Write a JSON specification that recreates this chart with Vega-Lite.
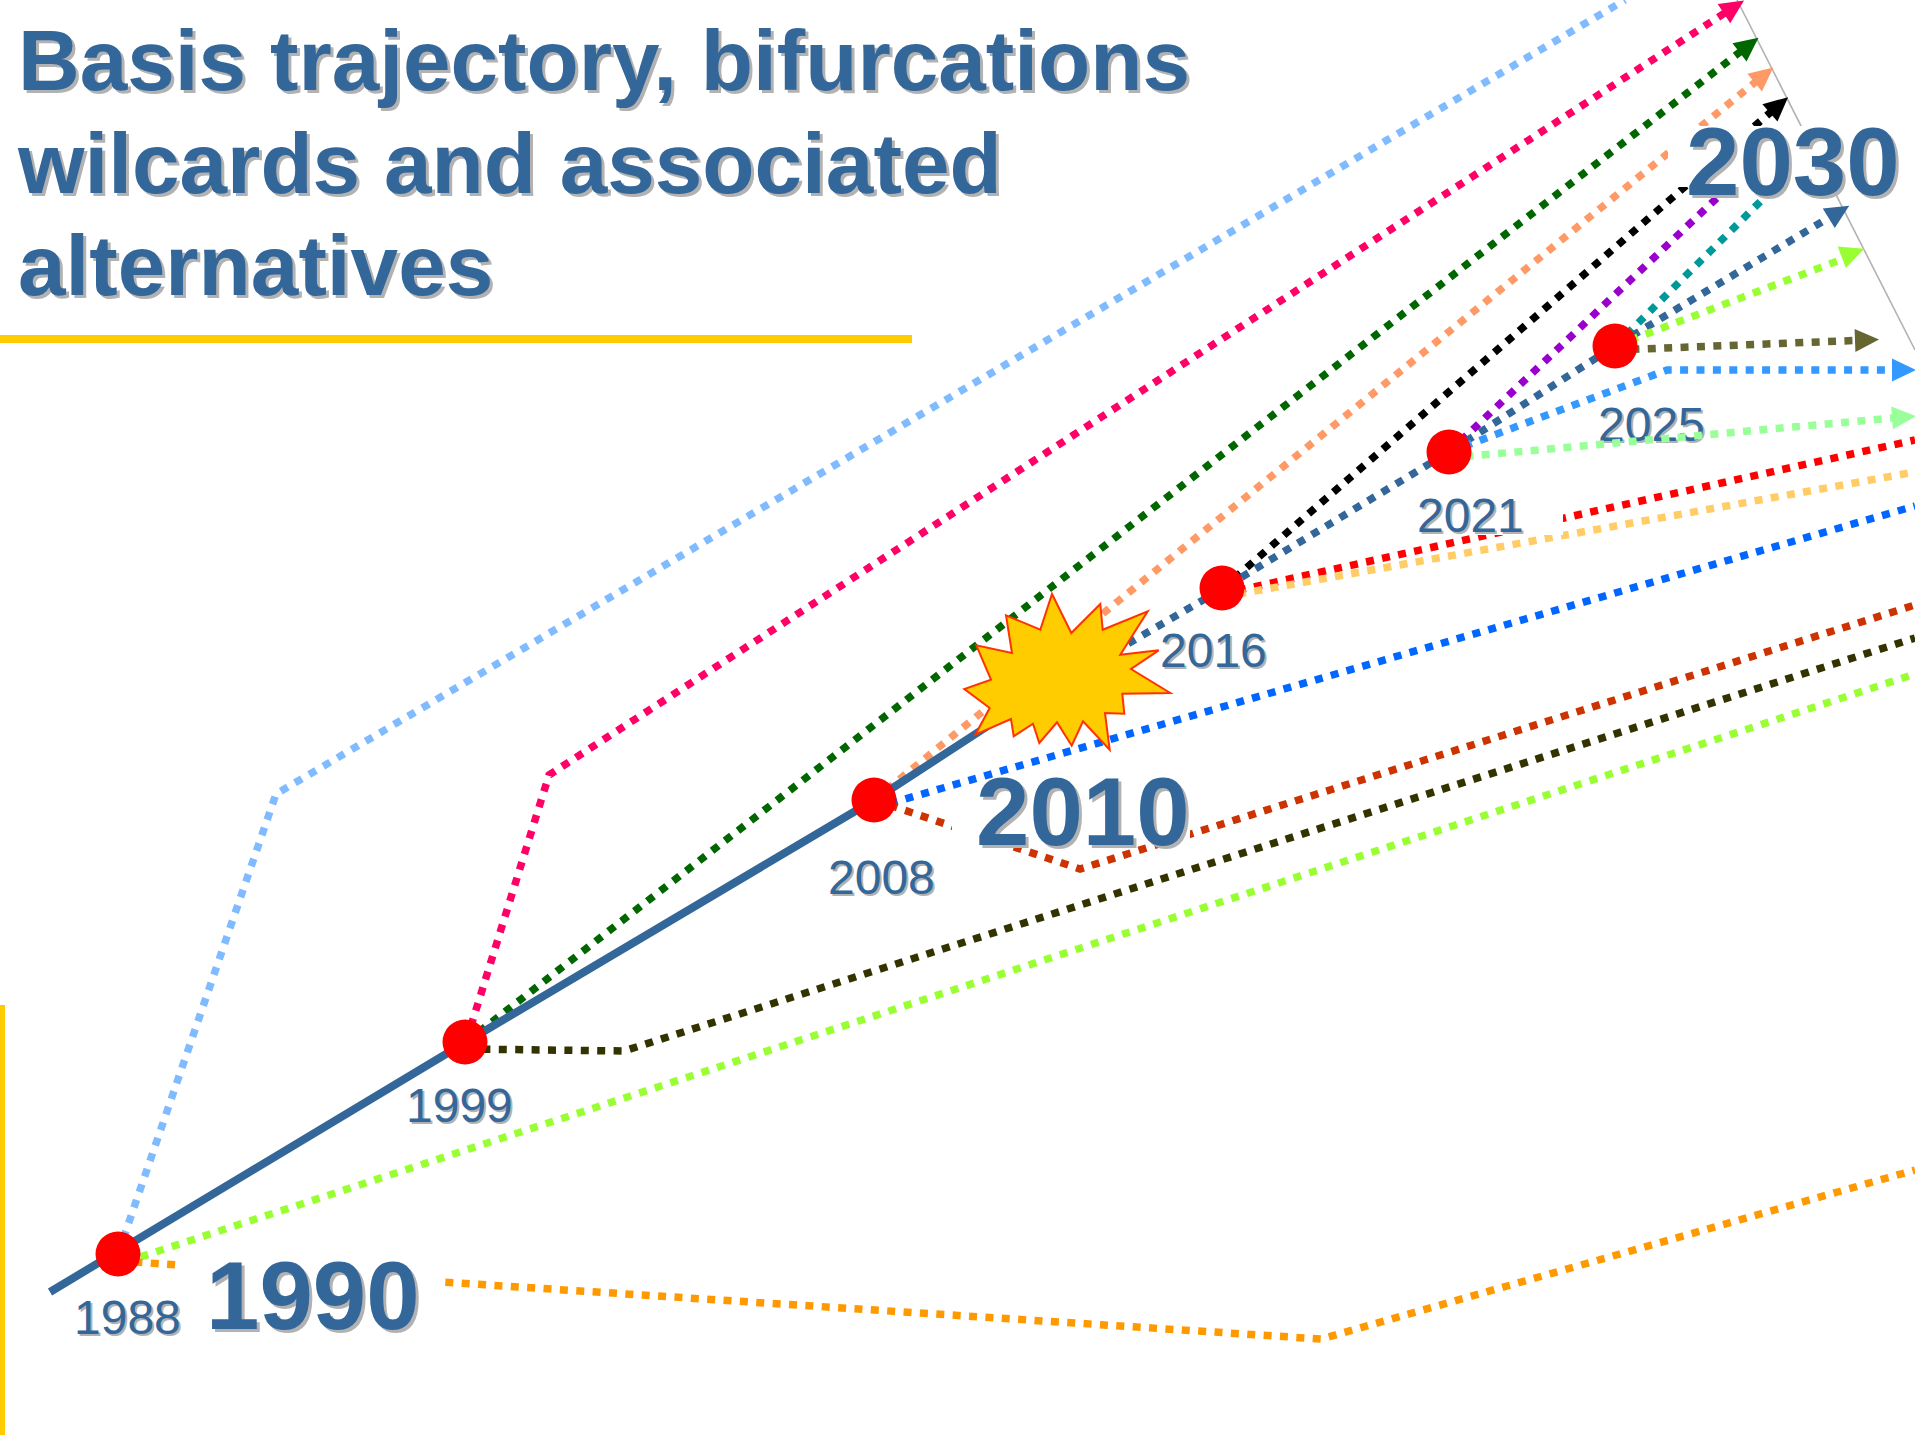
{
"$schema":"https://vega.github.io/schema/vega-lite/v6.json",
"width":1915,"height":1435,
"autosize":{"type":"none"},
"padding":0,
"background":"white",
"view":{"stroke":null},
"config":{"style":{"cell":{"stroke":null}}},
"datasets":{
"lines":[
{"series":"a","step":1,"x":118,"y":1254},{"series":"a","step":2,"x":276,"y":794},{"series":"a","step":3,"x":1625,"y":0},
{"series":"b","step":1,"x":466,"y":1042},{"series":"b","step":2,"x":549,"y":775},{"series":"b","step":3,"x":1734,"y":7},
{"series":"c","step":1,"x":466,"y":1042},{"series":"c","step":2,"x":1749,"y":45},
{"series":"d","step":1,"x":874,"y":800},{"series":"d","step":2,"x":1764,"y":75},
{"series":"e","step":1,"x":1222,"y":589},{"series":"e","step":2,"x":1779,"y":105},
{"series":"f","step":1,"x":1449,"y":452},{"series":"f","step":2,"x":1738,"y":178},
{"series":"g","step":1,"x":1615,"y":346},{"series":"g","step":2,"x":1790,"y":172},
{"series":"h","step":1,"x":1100,"y":660},{"series":"h","step":2,"x":1222,"y":589},{"series":"h","step":3,"x":1449,"y":452},{"series":"h","step":4,"x":1615,"y":346},{"series":"h","step":5,"x":1835,"y":214},
{"series":"i","step":1,"x":1615,"y":346},{"series":"i","step":2,"x":1848,"y":257},
{"series":"j","step":1,"x":1615,"y":350},{"series":"j","step":2,"x":1867,"y":340},
{"series":"k","step":1,"x":1449,"y":452},{"series":"k","step":2,"x":1667,"y":370},{"series":"k","step":3,"x":1904,"y":370},
{"series":"l","step":1,"x":1449,"y":458},{"series":"l","step":2,"x":1904,"y":417},
{"series":"m","step":1,"x":1222,"y":594},{"series":"m","step":2,"x":1915,"y":440},
{"series":"n","step":1,"x":1222,"y":597},{"series":"n","step":2,"x":1915,"y":472},
{"series":"o","step":1,"x":874,"y":808},{"series":"o","step":2,"x":1915,"y":506},
{"series":"p","step":1,"x":874,"y":800},{"series":"p","step":2,"x":1080,"y":869},{"series":"p","step":3,"x":1915,"y":605},
{"series":"q","step":1,"x":466,"y":1049},{"series":"q","step":2,"x":624,"y":1051},{"series":"q","step":3,"x":1915,"y":638},
{"series":"r","step":1,"x":125,"y":1262},{"series":"r","step":2,"x":1915,"y":674},
{"series":"s","step":1,"x":118,"y":1261},{"series":"s","step":2,"x":1321,"y":1339},{"series":"s","step":3,"x":1915,"y":1170}
],
"arrows":[
{"series":"b","x":1734,"y":7},{"series":"c","x":1749,"y":45},{"series":"d","x":1764,"y":75},{"series":"e","x":1779,"y":105},
{"series":"h","x":1839,"y":212},{"series":"i","x":1853,"y":253},{"series":"j","x":1867,"y":340},{"series":"k","x":1904,"y":370},{"series":"l","x":1904,"y":417}
],
"trajectory":[{"step":1,"x":50,"y":1292},{"step":2,"x":466,"y":1042},{"step":3,"x":874,"y":800},{"step":4,"x":1000,"y":718}],
"edge":[{"step":1,"x":1737,"y":0},{"step":2,"x":1915,"y":350}],
"nodes":[{"year":1988,"x":118,"y":1254},{"year":1999,"x":465,"y":1042},{"year":2008,"x":874,"y":800},{"year":2016,"x":1222,"y":588},{"year":2021,"x":1449,"y":452},{"year":2025,"x":1615,"y":346}],
"masks":[{"x":183,"x2":437,"y":1255,"y2":1310},{"x":952,"x2":1190,"y":792,"y2":840},{"x":1668,"x2":1900,"y":126,"y2":187},{"x":1420,"x2":1563,"y":495,"y2":535}],
"bars":[{"x":0,"x2":912,"y":335,"y2":343},{"x":0,"x2":5,"y":1005,"y2":1435}],
"burst":[{"x":1067,"y":673}],
"title":[{"label":"Basis trajectory, bifurcations","x":18,"y":90},{"label":"wilcards and associated","x":18,"y":193},{"label":"alternatives","x":18,"y":295}],
"big":[{"label":"1990","x":206,"y":1329},{"label":"2010","x":976,"y":845},{"label":"2030","x":1686,"y":195}],
"small":[{"label":"1988","x":74,"y":1334},{"label":"1999","x":406,"y":1122},{"label":"2008","x":828,"y":894},{"label":"2016","x":1160,"y":667},{"label":"2021","x":1417,"y":532}],
"under":[{"label":"2025","x":1598,"y":441}]
},
"encoding":{
"x":{"field":"x","type":"quantitative","scale":{"domain":[0,1915],"nice":false,"zero":false},"axis":null},
"y":{"field":"y","type":"quantitative","scale":{"domain":[1435,0],"nice":false,"zero":false},"axis":null}
},
"layer":[
{"data":{"name":"under"},"mark":{"type":"text","align":"left","baseline":"alphabetic","font":"Liberation Sans","fontSize":48,"color":"#B2B2B2","dx":2,"dy":2},"encoding":{"text":{"field":"label"}}},
{"data":{"name":"under"},"mark":{"type":"text","align":"left","baseline":"alphabetic","font":"Liberation Sans","fontSize":48,"color":"#336699"},"encoding":{"text":{"field":"label"}}},
{"data":{"name":"edge"},"mark":{"type":"line","color":"#B2B2B2","strokeWidth":1.6},"encoding":{"order":{"field":"step"}}},
{"data":{"name":"lines"},"mark":{"type":"line","strokeWidth":7.5,"strokeDash":[8,8.4],"strokeCap":"butt"},"encoding":{
"order":{"field":"step"},
"color":{"field":"series","type":"nominal","legend":null,"scale":{"domain":["a","b","c","d","e","f","g","h","i","j","k","l","m","n","o","p","q","r","s"],"range":["#80BBFF","#FF0066","#006600","#FF9966","#000000","#9900CC","#009999","#336699","#99FF33","#666633","#3399FF","#99FF99","#FF0000","#FFCC66","#0066FF","#CC3300","#333300","#99FF33","#FF9900"]}}
}},
{"data":{"name":"arrows"},"mark":{"type":"point","filled":true,"opacity":1,"size":4,"shape":"M -12 -11.5 L 12 0 L -12 11.5 Z"},"encoding":{
"color":{"field":"series","type":"nominal","legend":null},
"angle":{"field":"series","type":"nominal","legend":null,"scale":{"type":"ordinal","domain":["b","c","d","e","h","i","j","k","l"],"range":[327,322.2,320.9,319.1,328.5,339,358,0,355.7]}}
}},
{"data":{"name":"masks"},"mark":{"type":"rect","color":"white"},"encoding":{"x2":{"field":"x2"},"y2":{"field":"y2"}}},
{"data":{"name":"bars"},"mark":{"type":"rect","color":"#FFCC00"},"encoding":{"x2":{"field":"x2"},"y2":{"field":"y2"}}},
{"data":{"name":"trajectory"},"mark":{"type":"line","color":"#336699","strokeWidth":8,"strokeCap":"butt"},"encoding":{"order":{"field":"step"}}},
{"data":{"name":"nodes"},"mark":{"type":"circle","color":"#FF0000","opacity":1,"size":2025},"encoding":{}},
{"data":{"name":"burst"},"mark":{"type":"point","filled":true,"opacity":1,"size":4,"fill":"#FFCC00","stroke":"#FF3300","strokeWidth":2,"shape":"M -15 -79 L 4.3 -40 L 33.3 -69 L 35.7 -43.3 L 80.7 -61.7 L 53.3 -18.3 L 91.7 -22.7 L 64 -4 L 103.3 20 L 55.3 20.7 L 57.3 40.7 L 38 40 L 42.7 76.7 L 16 48.3 L 4.7 72.7 L -10 49.3 L -27.7 70 L -34 50.7 L -53.3 63.3 L -56 46 L -91.7 61.7 L -77.3 35 L -102.7 16 L -76 6.7 L -90.7 -27.7 L -55 -20 L -61 -57.7 L -26.7 -43.3 Z"},"encoding":{}},
{"data":{"name":"title"},"mark":{"type":"text","align":"left","baseline":"alphabetic","font":"Liberation Sans","fontWeight":"bold","fontSize":85.5,"color":"#B2B2B2","dx":3,"dy":3},"encoding":{"text":{"field":"label"}}},
{"data":{"name":"title"},"mark":{"type":"text","align":"left","baseline":"alphabetic","font":"Liberation Sans","fontWeight":"bold","fontSize":85.5,"color":"#336699"},"encoding":{"text":{"field":"label"}}},
{"data":{"name":"big"},"mark":{"type":"text","align":"left","baseline":"alphabetic","font":"Liberation Sans","fontWeight":"bold","fontSize":96,"color":"#B2B2B2","dx":3,"dy":3},"encoding":{"text":{"field":"label"}}},
{"data":{"name":"big"},"mark":{"type":"text","align":"left","baseline":"alphabetic","font":"Liberation Sans","fontWeight":"bold","fontSize":96,"color":"#336699"},"encoding":{"text":{"field":"label"}}},
{"data":{"name":"small"},"mark":{"type":"text","align":"left","baseline":"alphabetic","font":"Liberation Sans","fontSize":48,"color":"#B2B2B2","dx":2,"dy":2},"encoding":{"text":{"field":"label"}}},
{"data":{"name":"small"},"mark":{"type":"text","align":"left","baseline":"alphabetic","font":"Liberation Sans","fontSize":48,"color":"#336699"},"encoding":{"text":{"field":"label"}}}
]
}
